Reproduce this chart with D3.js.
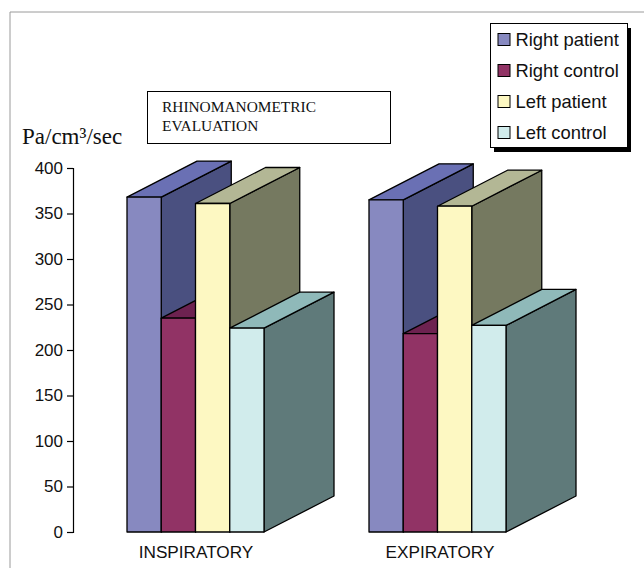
<!DOCTYPE html>
<html>
<head>
<meta charset="utf-8">
<style>
body { margin: 0; background: #fff; }
svg { display: block; }
text { fill: #111; }
.sans { font-family: "Liberation Sans", Arial, sans-serif; }
.serif { font-family: "Liberation Serif", "Times New Roman", serif; }
</style>
<script src="https://cdn.jsdelivr.net/npm/d3@7"></script>
</head>
<body>
<div id="chart"></div>
<script>
const categories = ["INSPIRATORY", "EXPIRATORY"];
const seriesNames = ["Right patient", "Right control", "Left patient", "Left control"];
const rightPatient = [368, 365];
const rightControl = [235, 218];
const leftPatient = [361, 358];
const leftControl = [224, 227];
const seriesValues = [rightPatient, rightControl, leftPatient, leftControl];
const yTicks = [0, 50, 100, 150, 200, 250, 300, 350, 400];
const titleLines = ["RHINOMANOMETRIC", "EVALUATION"];
const yLabel = "Pa/cm³/sec";

const frontColors = ["#8789c0", "#913365", "#fdf8c2", "#d1ecec"];
const topColors = ["#6a70b4", "#6d2250", "#b3b795", "#8fb9b9"];
const sideColors = ["#4a5080", "#6d2250", "#757960", "#5f7a7a"];

const width = 644, height = 568;
const depthX = 70, depthY = 36;

const svg = d3.select("#chart").append("svg")
    .attr("width", width)
    .attr("height", height);

// Page frame, only top and left edges show
svg.append("path")
    .attr("d", "M10," + height + "V12H" + width)
    .attr("fill", "none")
    .attr("stroke", "#9a9a9a")
    .attr("stroke-width", 1);

// Scales
const y = d3.scaleLinear().domain([0, 400]).range([532, 168]);
const xGroup = d3.scaleBand().domain(categories).range([127, 611]);
const xBar = d3.scaleBand().domain(seriesNames).range([0, 137]);

// Y axis
const yAxis = d3.axisLeft(y).tickValues(yTicks).tickSize(6).tickPadding(4);
const axisG = svg.append("g")
    .attr("transform", "translate(73,0)")
    .attr("class", "sans")
    .call(yAxis);
axisG.selectAll("text").attr("font-size", 17).attr("font-family", "Liberation Sans").style("fill", "#111");
axisG.selectAll("line, path").attr("stroke", "#000").attr("stroke-width", 1.2);

// Bars, drawn left to right so that each one covers the side of the one before
categories.forEach((cat, c) => {
    const g = svg.append("g").attr("transform", "translate(" + xGroup(cat) + ",0)");
    seriesNames.forEach((name, s) => {
        const x0 = xBar(name);
        const x1 = x0 + xBar.bandwidth();
        const yTop = y(seriesValues[s][c]);
        const yBase = y(0);

        g.append("path")
            .attr("d", `M${x1},${yTop}L${x1 + depthX},${yTop - depthY}V${yBase - depthY}L${x1},${yBase}Z`)
            .attr("fill", sideColors[s]);
        g.append("path")
            .attr("d", `M${x0},${yTop}L${x0 + depthX},${yTop - depthY}H${x1 + depthX}L${x1},${yTop}Z`)
            .attr("fill", topColors[s]);
        g.append("rect")
            .attr("x", x0)
            .attr("y", yTop)
            .attr("width", x1 - x0)
            .attr("height", yBase - yTop)
            .attr("fill", frontColors[s]);
        g.selectAll("path, rect")
            .attr("stroke", "#000")
            .attr("stroke-width", 1.3)
            .attr("stroke-linejoin", "round");
    });

    svg.append("text")
        .attr("class", "sans")
        .attr("x", xGroup(cat) + (c === 0 ? 69 : 71))
        .attr("y", 558)
        .attr("text-anchor", "middle")
        .attr("font-size", 17.2)
        .text(cat);
});

// Y axis title
svg.append("text")
    .attr("class", "serif")
    .attr("x", 22)
    .attr("y", 144)
    .attr("font-size", 23)
    .text(yLabel);

// Title box
svg.append("rect")
    .attr("x", 147.5).attr("y", 91.5)
    .attr("width", 243).attr("height", 52)
    .attr("fill", "#fff")
    .attr("stroke", "#000")
    .attr("stroke-width", 1);
svg.selectAll(".title-line").data(titleLines).enter().append("text")
    .attr("class", "serif title-line")
    .attr("x", 162)
    .attr("y", (d, i) => 112 + i * 19)
    .attr("font-size", 15.4)
    .text(d => d);

// Legend with hard shadow
const legendY = d3.scaleBand().domain(seriesNames).range([24, 148]);
svg.append("rect")
    .attr("x", 494).attr("y", 28)
    .attr("width", 137).attr("height", 124)
    .attr("fill", "#000");
svg.append("rect")
    .attr("x", 490.5).attr("y", 23.5)
    .attr("width", 137).attr("height", 124)
    .attr("fill", "#fff")
    .attr("stroke", "#000")
    .attr("stroke-width", 1);
seriesNames.forEach((name, s) => {
    const cy = legendY(name) + legendY.bandwidth() / 2;
    svg.append("rect")
        .attr("x", 498).attr("y", cy - 6)
        .attr("width", 12).attr("height", 12)
        .attr("fill", frontColors[s])
        .attr("stroke", "#000")
        .attr("stroke-width", 1);
    svg.append("text")
        .attr("class", "sans")
        .attr("x", 515.5)
        .attr("y", cy + 6)
        .attr("font-size", 18.4)
        .text(name);
});
</script>
</body>
</html>
